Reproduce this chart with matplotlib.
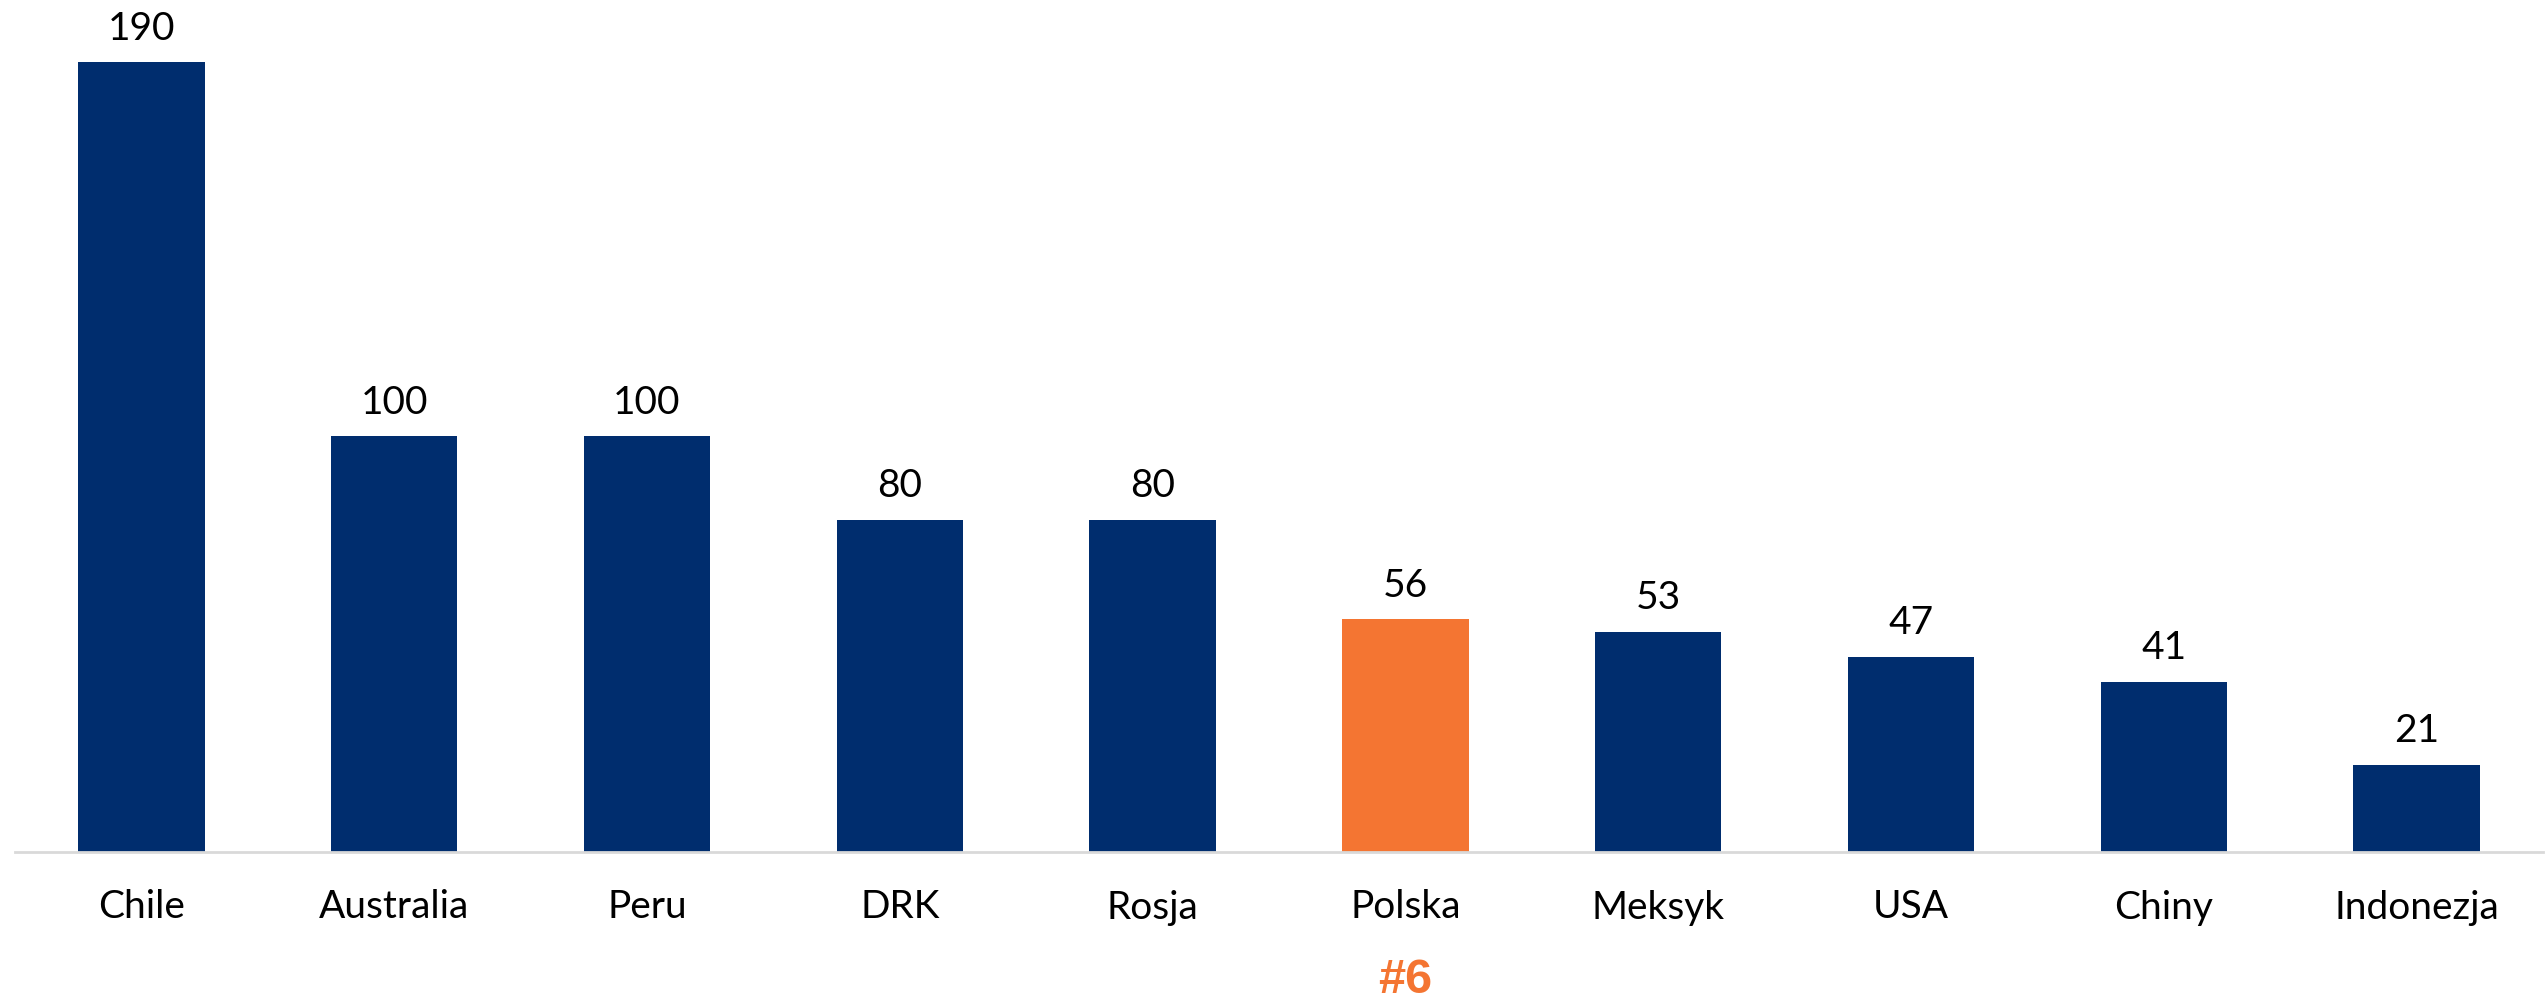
import matplotlib.pyplot as plt
from matplotlib import transforms

countries = ["Chile", "Australia", "Peru", "DRK", "Rosja",
             "Polska", "Meksyk", "USA", "Chiny", "Indonezja"]
values = [190, 100, 100, 80, 80, 56, 53, 47, 41, 21]
highlight = "Polska"
rank_label = "#6"

navy = "#002D6E"
orange = "#F47532"
colors = [orange if c == highlight else navy for c in countries]

plt.rcParams["font.family"] = ["Lato", "DejaVu Sans"]

fig = plt.figure(figsize=(25.48, 10), dpi=100)
ax = fig.add_axes([15 / 2548, 0.148, (2543 - 15) / 2548, 0.852])

x = range(len(countries))
bars = ax.bar(x, values, width=0.5, color=colors)

for b, v in zip(bars, values):
    ax.annotate(str(v), (b.get_x() + b.get_width() / 2, v),
                xytext=(0, 11), textcoords="offset points",
                ha="center", va="bottom", fontsize=28, color="black")

ax.set_xlim(-0.5, len(countries) - 0.5)
ax.set_ylim(0, 205)
ax.set_xticks(list(x))
ax.set_xticklabels(countries, fontsize=28)
ax.tick_params(axis="x", length=0, pad=27)
ax.set_yticks([])

for s in ["top", "right", "left"]:
    ax.spines[s].set_visible(False)
ax.spines["bottom"].set_color("#D9D9D9")
ax.spines["bottom"].set_linewidth(2)

# rank note under the highlighted country
idx = countries.index(highlight)
trans = transforms.blended_transform_factory(ax.transData, fig.transFigure)
ax.text(idx, 0.007, rank_label, transform=trans, ha="center", va="baseline",
        fontsize=35, fontweight="bold", color=orange,
        family=["Liberation Sans", "DejaVu Sans"])

fig.savefig("out.png", dpi=100)
